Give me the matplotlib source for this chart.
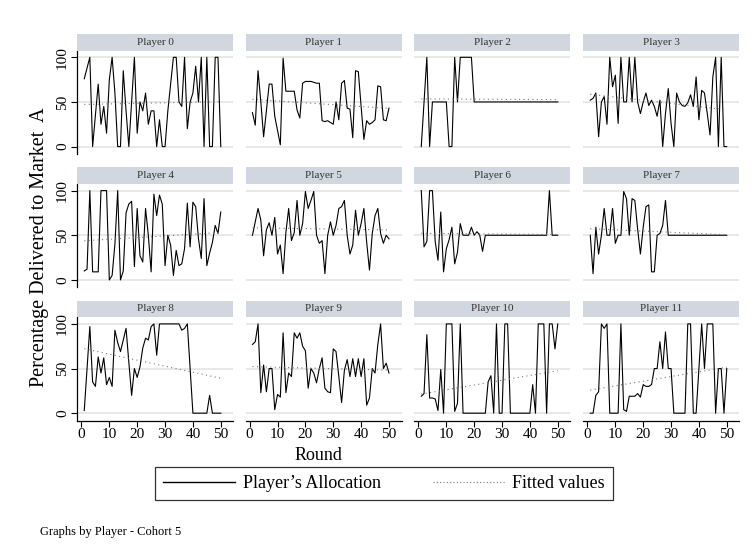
import numpy as np
import matplotlib
matplotlib.use("Agg")
from matplotlib import pyplot as plt
from matplotlib.lines import Line2D

plt.rcParams['font.family'] = ['Liberation Serif', 'DejaVu Serif']

rounds = np.arange(1, 51)

# Percentage delivered to market A, per player, rounds 1..50
p0 = [76, 88, 100, 0, 35, 70, 25, 45, 15, 75, 100, 60, 0, 0, 85, 40, 0, 50, 100, 15,
      50, 40, 60, 25, 40, 40, 0, 30, 0, 0, 40, 70, 100, 100, 50, 45, 100, 20, 50, 60,
      90, 50, 100, 0, 100, 0, 0, 100, 100, 0]
p1 = [38, 24, 85, 50, 11, 40, 70, 70, 34, 18, 2, 99, 62, 62, 62, 62, 41, 32, 71, 73,
      73, 73, 72, 71, 71, 29, 28, 29, 27, 25, 50, 30, 71, 74, 43, 42, 10, 85, 84, 45,
      8, 29, 25, 27, 30, 68, 67, 30, 29, 43]
p2 = [0, 50, 100, 0, 50, 50, 50, 50, 50, 50, 0, 0, 100, 50, 100, 100, 100, 100, 100, 50,
      50, 50, 50, 50, 50, 50, 50, 50, 50, 50, 50, 50, 50, 50, 50, 50, 50, 50, 50, 50,
      50, 50, 50, 50, 50, 50, 50, 50, 50, 50]
p3 = [52, 54, 60, 11, 50, 56, 25, 100, 67, 80, 26, 100, 50, 50, 100, 50, 100, 50, 37, 50,
      60, 46, 52, 45, 34, 52, 0, 37, 65, 26, 0, 60, 50, 46, 45, 49, 58, 45, 78, 30,
      63, 60, 37, 13, 78, 100, 0, 100, 0, 0]
p4 = [10, 12, 100, 9, 9, 9, 100, 100, 100, 0, 5, 40, 100, 0, 10, 75, 85, 88, 15, 80,
      27, 20, 80, 50, 9, 96, 72, 95, 85, 16, 50, 39, 5, 33, 16, 18, 35, 86, 37, 87,
      82, 46, 24, 91, 16, 30, 42, 61, 52, 76]
p5 = [50, 65, 80, 67, 27, 56, 64, 50, 70, 29, 39, 7, 53, 80, 44, 53, 89, 50, 63, 99,
      80, 89, 99, 50, 41, 44, 7, 50, 65, 50, 61, 80, 82, 89, 50, 29, 39, 78, 50, 63,
      80, 42, 11, 52, 72, 80, 52, 41, 50, 46]
p6 = [100, 37, 43, 100, 100, 43, 22, 76, 9, 35, 45, 59, 18, 31, 63, 50, 50, 50, 59, 50,
      54, 50, 32, 50, 50, 50, 50, 50, 50, 50, 50, 50, 50, 50, 50, 50, 50, 50, 50, 50,
      50, 50, 50, 50, 50, 50, 100, 50, 50, 50]
p7 = [50, 7, 59, 29, 50, 80, 50, 50, 80, 41, 50, 50, 99, 91, 50, 91, 89, 57, 29, 59,
      82, 84, 9, 9, 50, 52, 61, 89, 50, 50, 50, 50, 50, 50, 50, 50, 50, 50, 50, 50,
      50, 50, 50, 50, 50, 50, 50, 50, 50, 50]
p8 = [3, 50, 97, 35, 30, 63, 45, 62, 32, 40, 30, 93, 79, 69, 82, 95, 57, 20, 50, 40,
      52, 73, 84, 82, 97, 100, 65, 100, 100, 100, 100, 100, 100, 100, 100, 93, 95, 100, 50, 0,
      0, 0, 0, 0, 0, 20, 0, 0, 0, 0]
p9 = [77, 80, 100, 23, 54, 24, 50, 50, 4, 21, 18, 90, 23, 45, 41, 90, 84, 90, 75, 70,
      28, 50, 45, 34, 50, 62, 28, 24, 23, 72, 69, 41, 12, 48, 60, 41, 61, 41, 61, 41,
      61, 9, 17, 50, 45, 77, 100, 50, 56, 45]
p10 = [19, 22, 88, 17, 17, 16, 3, 49, 0, 100, 100, 100, 2, 11, 100, 0, 0, 0, 0, 0,
       0, 0, 0, 0, 35, 42, 0, 100, 0, 0, 100, 100, 0, 0, 0, 0, 0, 0, 0, 0,
       32, 0, 100, 100, 100, 0, 100, 100, 72, 100]
p11 = [0, 0, 20, 24, 100, 95, 100, 0, 0, 0, 0, 100, 4, 2, 19, 19, 19, 22, 18, 32,
       30, 30, 32, 50, 50, 80, 50, 91, 50, 50, 0, 0, 0, 0, 0, 100, 100, 0, 0, 50,
       100, 50, 100, 100, 100, 0, 50, 50, 0, 50]

players = [p0, p1, p2, p3, p4, p5, p6, p7, p8, p9, p10, p11]
names = ["Player %d" % i for i in range(12)]

W, H = 755.0, 550.0
fig = plt.figure(figsize=(W / 100, H / 100), dpi=100)

# panel geometry in pixels
col_left = [77.3, 245.5, 414.3, 583.3]
pw = 156.0
hdr_top = 34.0
hdr_h = 16.7
plot_top = 50.7
plot_bot = 154.0
row_step = 133.3

grid_col = '#e6e6e6'
strip_col = '#d2d7df'

for i, y in enumerate(players):
    r, c = i // 4, i % 4
    y = np.array(y, dtype=float)

    ax = fig.add_axes([col_left[c] / W, 1 - (plot_bot + r * row_step) / H,
                       pw / W, (plot_bot - plot_top) / H])
    ax.set_xlim(-1.5, 54.5)
    ax.set_ylim(-8.3, 107.4)
    ax.set_yticks([0, 50, 100])
    ax.yaxis.grid(True, color=grid_col, lw=1.3)
    ax.set_axisbelow(True)

    ax.plot(rounds, y, color='black', lw=0.8)
    coef = np.polyfit(rounds, y, 1)
    ax.plot(rounds, np.polyval(coef, rounds), color='#7a7a7a', ls=(0, (1, 3)), lw=0.8)

    for s in ['top', 'right']:
        ax.spines[s].set_visible(False)
    if c == 0:
        ax.spines['left'].set_linewidth(0.9)
        ax.set_yticklabels(['0', '50', '100'], rotation=90, va='center', fontsize=11)
        ax.tick_params(axis='y', length=4, width=0.8, pad=2)
    else:
        ax.spines['left'].set_visible(False)
        ax.tick_params(axis='y', length=0, labelleft=False)
    if r == 2:
        ax.spines['bottom'].set_linewidth(0.9)
        ax.set_xticks(range(0, 51, 10))
        ax.tick_params(axis='x', length=4, width=0.8, labelsize=11, pad=1)
    else:
        ax.spines['bottom'].set_visible(False)
        ax.set_xticks([])

    hax = fig.add_axes([col_left[c] / W, 1 - (hdr_top + r * row_step + hdr_h) / H,
                        pw / W, hdr_h / H])
    hax.set_facecolor(strip_col)
    hax.set_xticks([])
    hax.set_yticks([])
    for s in hax.spines.values():
        s.set_visible(False)
    hax.text(0.5, 0.5, names[i], ha='center', va='center', fontsize=8, color='#333333')

fig.text(40 / W, 1 - 247 / H, "Percentage Delivered to Market  A", rotation=90,
         ha='center', va='center', fontsize=14.5)
fig.text(318 / W, 1 - 455 / H, "Round", ha='center', va='center', fontsize=13)

handles = [Line2D([], [], color='black', lw=1.0),
           Line2D([], [], color='#7a7a7a', ls=(0, (1, 2)), lw=0.8)]
leg = fig.legend(handles, ["Player\u2019s Allocation", "Fitted values"],
                 loc='upper left', bbox_to_anchor=(155 / W, 1 - 467 / H),
                 borderaxespad=0, ncol=2, fontsize=13, frameon=True, fancybox=False,
                 edgecolor='black', handlelength=4.0, handletextpad=0.4,
                 columnspacing=2.9, borderpad=0.45)
leg.get_frame().set_linewidth(0.9)

fig.text(40 / W, 1 - 532 / H, "Graphs by Player - Cohort 5", ha='left', va='center',
         fontsize=9)

plt.savefig("out.png", dpi=100)
